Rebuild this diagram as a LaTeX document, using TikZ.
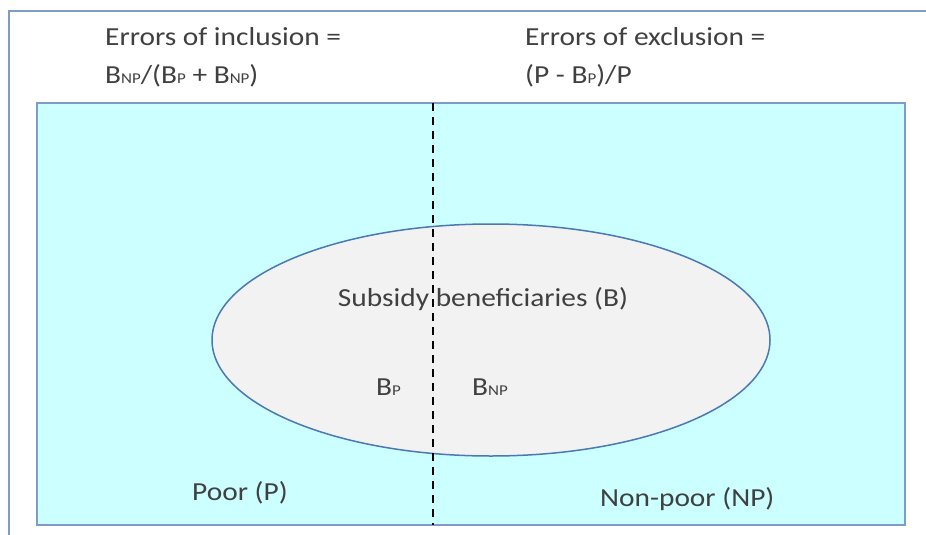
\documentclass[tikz,border=0pt]{standalone}
\usepackage{fontspec}
\setmainfont{Carlito}[FakeStretch=1.13]
\usetikzlibrary{shapes.geometric}
\definecolor{framecol}{HTML}{7F9CC8}
\definecolor{boxfill}{HTML}{CCFFFF}
\definecolor{ellfill}{HTML}{F2F2F2}
\definecolor{ellline}{HTML}{4A79B4}
\definecolor{txtcol}{HTML}{404040}
\newcommand{\subtxt}[1]{{\fontsize{15}{15}\selectfont #1}}

\begin{document}
\begin{tikzpicture}[x=1pt,y=-1pt]
\tikzset{label/.style={text=txtcol,font=\fontsize{26}{30}\selectfont,inner sep=0pt}}
\useasboundingbox (0,0) rectangle (926,535);
% outer frame (only left and top edges show)
\draw[framecol,line width=1.5pt] (9,535) -- (9,11) -- (926,11);
% population box
\coordinate (tl) at (37,103);
\coordinate (br) at (905,525);
\draw[framecol,fill=boxfill,line width=1.5pt] (tl) rectangle (br);
% beneficiaries
\node[ellipse,draw=ellline,fill=ellfill,line width=1.5pt,
  minimum width=558,minimum height=232,inner sep=0pt] (B) at (491,340) {};
% poverty line
\coordinate (top) at (433,103);
\coordinate (bot) at (433,525);
\draw[black,line width=1.5pt,dash pattern=on 8pt off 6pt] (top) -- (bot);
% texts
\node[label,anchor=base west] (inc1) at (105,46) {Errors of inclusion =};
\node[label,anchor=base west] (inc2) at (105,83) {B\subtxt{NP}/(B\subtxt{P} + B\subtxt{NP})};
\node[label,anchor=base west] (exc1) at (525,46) {Errors of exclusion =};
\node[label,anchor=base west] (exc2) at (525,83) {(P - B\subtxt{P})/P};
\node[label,anchor=base] (ben) at (483,306) {Subsidy beneficiaries (B)};
\node[label,anchor=base west] (bp) at (376,395) {B\subtxt{P}};
\node[label,anchor=base west] (bnp) at (472,395) {B\subtxt{NP}};
\node[label,anchor=base west] (poor) at (192,500) {Poor (P)};
\node[label,anchor=base west] (nonpoor) at (600,506) {Non-poor (NP)};
\end{tikzpicture}
\end{document}
